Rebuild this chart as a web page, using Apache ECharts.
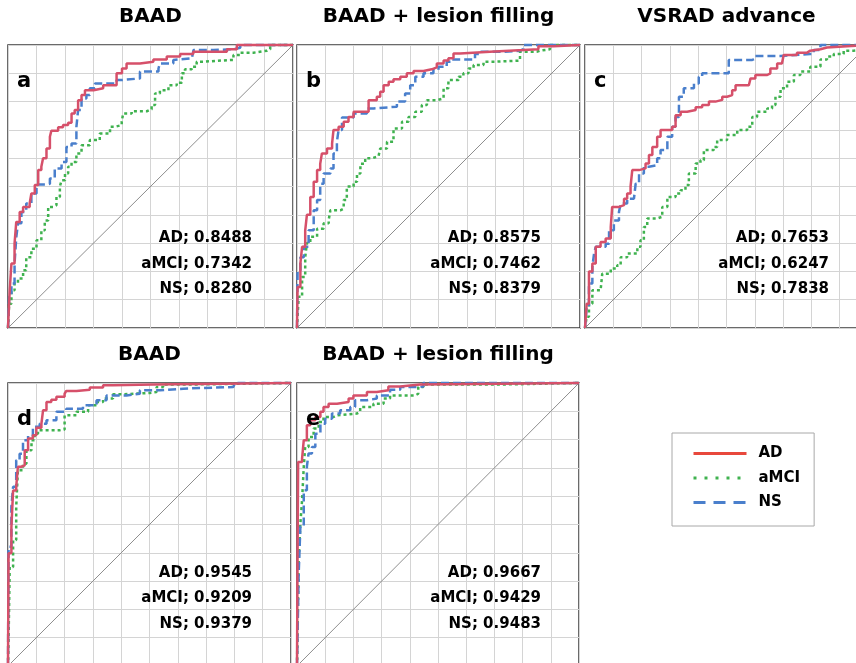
<!DOCTYPE html>
<html lang="en">
<head>
    <meta charset="UTF-8">
    <title>ROC curves</title>
    <script src="https://cdn.jsdelivr.net/npm/echarts@6/dist/echarts.min.js"></script>
    <style>
        html, body { margin: 0; padding: 0; background: #fff; }
        #chart { width: 856px; height: 663px; }
    </style>
</head>
<body>
<div id="chart"></div>
<script type="text/javascript">

    // panel titles, letters and AUC values
    var panelLetters = ['a', 'b', 'c', 'd', 'e'];
    var panelTitles = ['BAAD', 'BAAD + lesion filling', 'VSRAD advance', 'BAAD', 'BAAD + lesion filling'];
    var aucAD = ['0.8488', '0.8575', '0.7653', '0.9545', '0.9667'];
    var aucMCI = ['0.7342', '0.7462', '0.6247', '0.9209', '0.9429'];
    var aucNS = ['0.8280', '0.8379', '0.7838', '0.9379', '0.9483'];

    // ROC points [1 - specificity, sensitivity]
    var adA = [[0,0],[0.006,0.133],[0.012,0.228],[0.023,0.298],[0.029,0.375],[0.041,0.41],[0.053,0.428],[0.076,0.44],[0.082,0.475],[0.094,0.505],[0.106,0.558],[0.117,0.57],[0.123,0.6],[0.135,0.634],[0.147,0.676],[0.152,0.697],[0.176,0.709],[0.193,0.717],[0.211,0.725],[0.223,0.758],[0.234,0.77],[0.246,0.805],[0.258,0.823],[0.27,0.84],[0.3,0.847],[0.334,0.858],[0.381,0.864],[0.381,0.9],[0.4,0.917],[0.416,0.935],[0.463,0.941],[0.51,0.949],[0.557,0.959],[0.604,0.968],[0.65,0.976],[0.7,0.976],[0.768,0.985],[0.803,1],[1,1]];
    var mciA = [[0,0],[0.004,0.086],[0.012,0.133],[0.023,0.157],[0.035,0.175],[0.053,0.204],[0.064,0.25],[0.082,0.28],[0.1,0.31],[0.117,0.345],[0.129,0.38],[0.141,0.428],[0.158,0.434],[0.17,0.463],[0.182,0.5],[0.188,0.522],[0.2,0.546],[0.211,0.57],[0.223,0.587],[0.24,0.617],[0.258,0.646],[0.287,0.664],[0.322,0.687],[0.358,0.711],[0.375,0.717],[0.399,0.729],[0.404,0.758],[0.434,0.766],[0.487,0.773],[0.504,0.788],[0.516,0.829],[0.533,0.84],[0.563,0.858],[0.592,0.867],[0.61,0.9],[0.621,0.914],[0.645,0.923],[0.662,0.941],[0.686,0.947],[0.78,0.947],[0.791,0.965],[0.815,0.973],[0.862,0.98],[0.909,0.985],[0.92,1],[1,1]];
    var nsA = [[0,0],[0.004,0.11],[0.012,0.157],[0.023,0.228],[0.029,0.32],[0.035,0.37],[0.047,0.41],[0.064,0.44],[0.082,0.475],[0.1,0.507],[0.135,0.51],[0.147,0.528],[0.164,0.564],[0.188,0.587],[0.205,0.64],[0.223,0.652],[0.24,0.711],[0.246,0.77],[0.258,0.811],[0.275,0.823],[0.287,0.847],[0.305,0.864],[0.381,0.876],[0.399,0.882],[0.463,0.906],[0.528,0.917],[0.533,0.935],[0.58,0.947],[0.586,0.953],[0.645,0.959],[0.651,0.982],[0.721,0.985],[0.791,0.99],[0.815,1],[1,1]];

    var adB = [[0,0],[0.002,0.145],[0.012,0.228],[0.018,0.287],[0.029,0.345],[0.035,0.4],[0.047,0.463],[0.059,0.517],[0.071,0.558],[0.082,0.58],[0.088,0.617],[0.106,0.634],[0.124,0.652],[0.129,0.7],[0.147,0.711],[0.165,0.729],[0.182,0.746],[0.2,0.764],[0.253,0.77],[0.253,0.805],[0.282,0.817],[0.294,0.835],[0.306,0.858],[0.324,0.87],[0.341,0.879],[0.365,0.888],[0.388,0.9],[0.412,0.908],[0.447,0.914],[0.476,0.921],[0.494,0.935],[0.518,0.945],[0.535,0.953],[0.553,0.97],[0.576,0.976],[0.682,0.982],[0.8,0.985],[0.853,0.996],[0.906,1],[1,1]];
    var mciB = [[0,0],[0.002,0.04],[0.006,0.11],[0.018,0.18],[0.029,0.25],[0.035,0.3],[0.047,0.322],[0.071,0.351],[0.094,0.37],[0.112,0.382],[0.118,0.416],[0.153,0.422],[0.165,0.452],[0.176,0.5],[0.2,0.517],[0.212,0.546],[0.224,0.58],[0.241,0.6],[0.265,0.607],[0.288,0.61],[0.294,0.634],[0.318,0.658],[0.341,0.705],[0.371,0.729],[0.394,0.746],[0.418,0.764],[0.441,0.788],[0.459,0.805],[0.494,0.811],[0.518,0.847],[0.535,0.876],[0.571,0.888],[0.588,0.9],[0.606,0.917],[0.624,0.929],[0.659,0.941],[0.7,0.945],[0.788,0.945],[0.788,0.976],[0.847,0.98],[0.859,0.985],[0.894,1],[1,1]];
    var nsB = [[0,0],[0.002,0.2],[0.012,0.25],[0.024,0.287],[0.041,0.345],[0.059,0.416],[0.071,0.452],[0.082,0.51],[0.094,0.546],[0.118,0.564],[0.129,0.617],[0.141,0.658],[0.147,0.7],[0.159,0.744],[0.2,0.758],[0.247,0.776],[0.271,0.782],[0.353,0.8],[0.382,0.829],[0.4,0.858],[0.418,0.888],[0.447,0.9],[0.482,0.912],[0.5,0.923],[0.529,0.941],[0.553,0.949],[0.612,0.949],[0.629,0.968],[0.647,0.976],[0.729,0.98],[0.788,0.985],[0.8,1],[1,1]];

    var adC = [[0,0],[0.006,0.086],[0.014,0.2],[0.026,0.228],[0.038,0.287],[0.055,0.304],[0.073,0.316],[0.091,0.357],[0.096,0.428],[0.12,0.434],[0.138,0.457],[0.149,0.475],[0.161,0.5],[0.167,0.558],[0.191,0.564],[0.214,0.581],[0.226,0.611],[0.238,0.64],[0.255,0.676],[0.267,0.7],[0.308,0.711],[0.32,0.752],[0.338,0.764],[0.361,0.77],[0.391,0.78],[0.414,0.788],[0.438,0.8],[0.461,0.806],[0.485,0.817],[0.502,0.823],[0.52,0.84],[0.532,0.858],[0.579,0.862],[0.585,0.882],[0.602,0.894],[0.644,0.9],[0.655,0.917],[0.679,0.935],[0.696,0.941],[0.702,0.965],[0.749,0.973],[0.785,0.98],[0.796,0.985],[0.832,0.991],[0.855,0.996],[0.926,1],[1,1]];
    var mciC = [[0,0],[0.006,0.04],[0.014,0.086],[0.026,0.133],[0.055,0.139],[0.061,0.192],[0.091,0.21],[0.114,0.222],[0.126,0.25],[0.149,0.263],[0.185,0.287],[0.196,0.31],[0.208,0.357],[0.22,0.387],[0.255,0.393],[0.273,0.428],[0.291,0.463],[0.32,0.475],[0.338,0.487],[0.355,0.505],[0.367,0.546],[0.391,0.581],[0.408,0.593],[0.42,0.629],[0.455,0.64],[0.467,0.664],[0.502,0.682],[0.538,0.7],[0.573,0.711],[0.591,0.746],[0.608,0.764],[0.644,0.776],[0.661,0.788],[0.673,0.817],[0.691,0.847],[0.714,0.87],[0.738,0.894],[0.761,0.906],[0.796,0.923],[0.832,0.949],[0.855,0.959],[0.879,0.968],[0.914,0.98],[0.949,0.983],[0.99,0.99],[1,1]];
    var nsC = [[0,0],[0.006,0.074],[0.014,0.157],[0.026,0.216],[0.032,0.263],[0.038,0.287],[0.073,0.298],[0.085,0.345],[0.102,0.38],[0.12,0.41],[0.126,0.44],[0.149,0.457],[0.173,0.463],[0.179,0.51],[0.191,0.546],[0.208,0.57],[0.226,0.575],[0.255,0.6],[0.267,0.629],[0.291,0.676],[0.308,0.711],[0.32,0.746],[0.332,0.817],[0.349,0.847],[0.385,0.864],[0.402,0.888],[0.414,0.9],[0.491,0.9],[0.508,0.947],[0.591,0.953],[0.602,0.961],[0.691,0.968],[0.796,0.968],[0.808,0.982],[0.832,1],[1,1]];

    var adD = [[0,0],[0.002,0.398],[0.012,0.49],[0.018,0.62],[0.029,0.633],[0.035,0.704],[0.047,0.709],[0.059,0.762],[0.071,0.804],[0.088,0.815],[0.1,0.842],[0.118,0.856],[0.124,0.904],[0.136,0.933],[0.153,0.941],[0.171,0.951],[0.2,0.962],[0.206,0.972],[0.242,0.976],[0.289,0.984],[0.336,0.992],[0.371,0.995],[0.513,1],[1,1]];
    var mciD = [[0,0],[0.002,0.092],[0.006,0.35],[0.018,0.445],[0.029,0.562],[0.035,0.692],[0.053,0.715],[0.065,0.762],[0.083,0.798],[0.094,0.821],[0.106,0.833],[0.183,0.836],[0.2,0.886],[0.242,0.898],[0.283,0.921],[0.313,0.933],[0.336,0.945],[0.371,0.96],[0.407,0.965],[0.501,0.968],[0.525,0.986],[0.548,0.995],[0.666,1],[1,1]];
    var nsD = [[0,0],[0.002,0.421],[0.012,0.562],[0.018,0.633],[0.029,0.727],[0.041,0.75],[0.053,0.798],[0.071,0.815],[0.088,0.845],[0.112,0.856],[0.136,0.868],[0.171,0.898],[0.206,0.909],[0.265,0.921],[0.313,0.939],[0.348,0.956],[0.419,0.962],[0.466,0.974],[0.537,0.98],[0.619,0.986],[0.796,0.986],[0.802,1],[1,1]];

    var adE = [[0,0],[0.002,0.398],[0.004,0.721],[0.018,0.733],[0.024,0.798],[0.035,0.851],[0.047,0.868],[0.065,0.88],[0.083,0.898],[0.094,0.915],[0.112,0.927],[0.142,0.933],[0.183,0.945],[0.2,0.956],[0.248,0.968],[0.283,0.974],[0.324,0.988],[0.366,0.995],[0.436,1],[1,1]];
    var mciE = [[0,0],[0.002,0.139],[0.006,0.374],[0.012,0.504],[0.018,0.586],[0.024,0.704],[0.029,0.774],[0.041,0.809],[0.059,0.839],[0.077,0.862],[0.094,0.88],[0.13,0.886],[0.142,0.892],[0.212,0.898],[0.224,0.915],[0.271,0.927],[0.307,0.945],[0.33,0.956],[0.419,0.962],[0.43,0.986],[0.448,0.995],[0.743,1],[1,1]];
    var nsE = [[0,0],[0.006,0.327],[0.012,0.492],[0.024,0.621],[0.035,0.704],[0.041,0.751],[0.053,0.774],[0.065,0.821],[0.083,0.856],[0.1,0.874],[0.124,0.892],[0.153,0.904],[0.189,0.915],[0.206,0.939],[0.248,0.945],[0.283,0.956],[0.33,0.976],[0.366,0.986],[0.436,0.988],[0.448,1],[1,1]];

    var diagonal = [[0, 0], [1, 1]];

    var curvesAD = [adA, adB, adC, adD, adE];
    var curvesMCI = [mciA, mciB, mciC, mciD, mciE];
    var curvesNS = [nsA, nsB, nsC, nsD, nsE];

    // layout: [left, top, width, height] of each plot box
    var boxes = [
        [8, 45, 285, 283],
        [297, 45, 283, 283],
        [585, 45, 283, 283],
        [8, 383, 283, 283],
        [297, 383, 282, 283]
    ];
    var aucRowY = [[193, 219, 244], [193, 219, 244], [193, 219, 244], [190, 215, 241], [190, 215, 241]];

    var colAD = '#d6506a', colMCI = '#3fb24f', colNS = '#4a7fcc';
    var boldFont = '"DejaVu Sans", "Liberation Sans", sans-serif';

    var myChart = echarts.init(document.getElementById('chart'), null, { renderer: 'canvas' });

    var grids = [], xAxes = [], yAxes = [], series = [], texts = [];

    boxes.forEach(function (b, i) {
        grids.push({
            left: b[0], top: b[1], width: b[2], height: b[3],
            outerBoundsMode: 'none',
            show: true, borderColor: '#3a3a3a', borderWidth: 1.5, backgroundColor: '#fff'
        });
        var axisBase = {
            type: 'value', min: 0, max: 1, interval: 0.1,
            gridIndex: i,
            axisLine: { show: false },
            axisTick: { show: false },
            axisLabel: { show: false },
            splitLine: { show: true, lineStyle: { color: '#d4d4d4', width: 1 } }
        };
        xAxes.push(Object.assign({}, axisBase));
        yAxes.push(Object.assign({}, axisBase));

        series.push({
            type: 'line', xAxisIndex: i, yAxisIndex: i, data: diagonal,
            symbol: 'none', silent: true, clip: false,
            lineStyle: { color: '#8e8e8e', width: 1 }
        });
        series.push({
            name: 'aMCI', type: 'line', xAxisIndex: i, yAxisIndex: i,
            data: curvesMCI[i], step: 'end', symbol: 'none', clip: false,
            lineStyle: { color: colMCI, width: 2.5, type: [3, 3] },
            itemStyle: { color: colMCI }
        });
        series.push({
            name: 'NS', type: 'line', xAxisIndex: i, yAxisIndex: i,
            data: curvesNS[i], step: 'end', symbol: 'none', clip: false,
            lineStyle: { color: colNS, width: 2.5, type: [8, 4] },
            itemStyle: { color: colNS }
        });
        series.push({
            name: 'AD', type: 'line', xAxisIndex: i, yAxisIndex: i,
            data: curvesAD[i], step: 'end', symbol: 'none', clip: false,
            lineStyle: { color: colAD, width: 2.5 },
            itemStyle: { color: colAD }
        });

        // panel title above the box
        texts.push({
            type: 'text', x: b[0] + b[2] / 2, y: b[1] - 18,
            style: { text: panelTitles[i], fill: '#000', font: 'bold 20px ' + boldFont, textAlign: 'center', textVerticalAlign: 'bottom' },
            z: 10
        });
        // panel letter
        texts.push({
            type: 'text', x: b[0] + 9, y: b[1] + 26,
            style: { text: panelLetters[i], fill: '#000', font: 'bold 21px ' + boldFont, textAlign: 'left', textBaseline: 'alphabetic' },
            z: 10
        });
        var lines = ['AD; ' + aucAD[i], 'aMCI; ' + aucMCI[i], 'NS; ' + aucNS[i]];
        lines.forEach(function (t, k) {
            texts.push({
                type: 'text', x: b[0] + 244, y: b[1] + aucRowY[i][k],
                style: { text: t, fill: '#000', font: 'bold 15px ' + boldFont, textAlign: 'right', textVerticalAlign: 'middle' },
                z: 10
            });
        });
    });

    myChart.setOption({
        backgroundColor: '#fff',
        animation: false,
        grid: grids,
        xAxis: xAxes,
        yAxis: yAxes,
        legend: {
            orient: 'vertical',
            left: 672, top: 433,
            padding: [13, 14, 16, 20],
            itemWidth: 53, itemHeight: 14, itemGap: 9.5,
            borderColor: '#a8a8a8', borderWidth: 1,
            backgroundColor: '#fff',
            selectedMode: false,
            itemStyle: { opacity: 0 },
            textStyle: { fontFamily: boldFont, fontWeight: 'bold', fontSize: 15, color: '#000', padding: [0, 0, 0, 7] },
            data: [
                { name: 'AD', lineStyle: { color: '#e8483c', width: 3 } },
                { name: 'aMCI', lineStyle: { color: colMCI, width: 3, type: [3, 8] } },
                { name: 'NS', lineStyle: { color: colNS, width: 3, type: [12, 8] } }
            ]
        },
        graphic: texts,
        series: series
    });
</script>
</body>
</html>
